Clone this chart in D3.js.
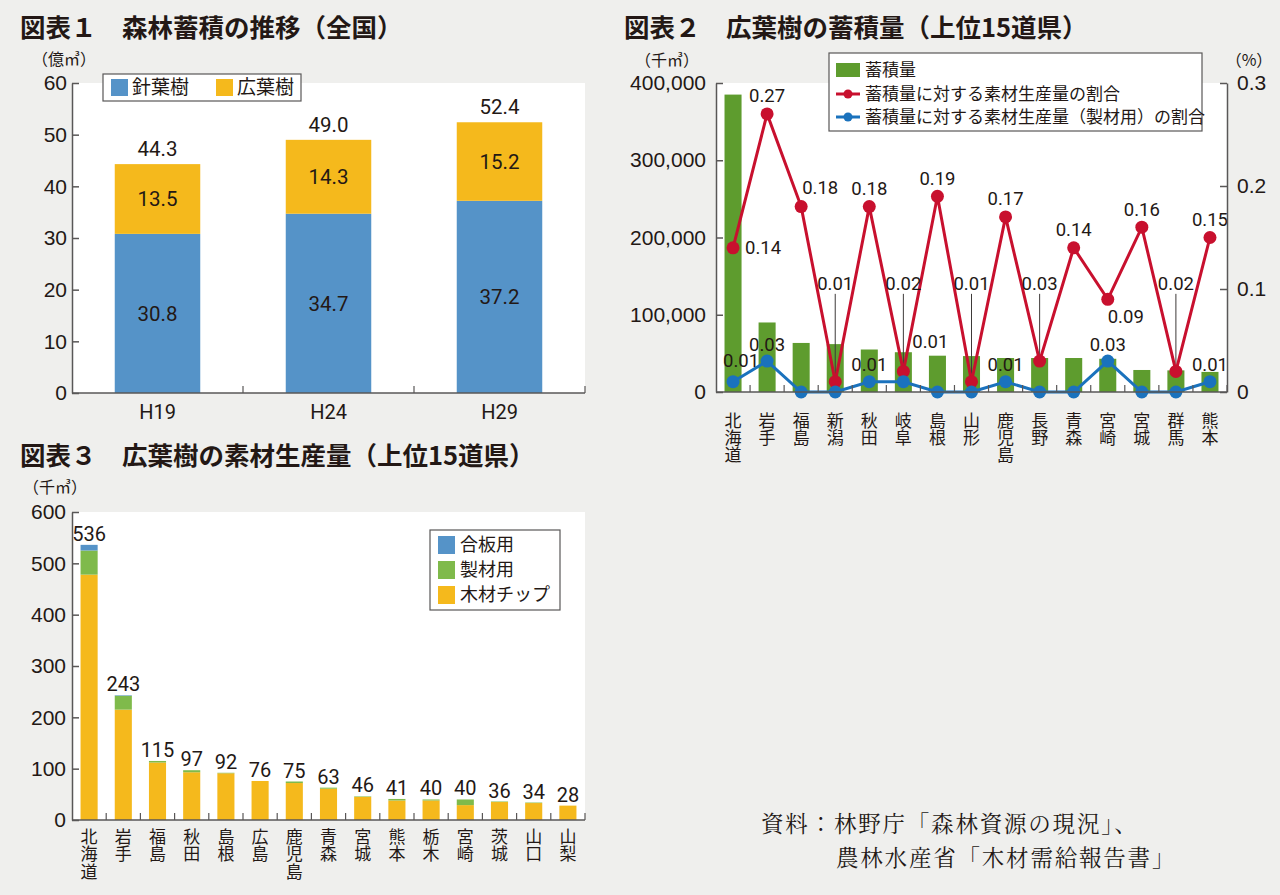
<!DOCTYPE html>
<html><head><meta charset="utf-8">
<script src="https://cdn.jsdelivr.net/npm/d3@7/dist/d3.min.js"></script>
<style>
body{margin:0;background:#efefed;}
svg{display:block;font-family:Roboto,"Noto Sans CJK JP",sans-serif;}
.vt{writing-mode:vertical-rl;text-orientation:upright;}
</style></head><body>
<svg id="c" width="1280" height="895"></svg>
<script>
// ---------- Chart 1 data ----------
const years = ["H19", "H24", "H29"];
const conifer = [30.8, 34.7, 37.2];
const broadleaf = [13.5, 14.3, 15.2];
const totals1 = [44.3, 49.0, 52.4];
const ticks1 = [0, 10, 20, 30, 40, 50, 60];

// ---------- Chart 2 data ----------
const prefs2 = ["北海道","岩手","福島","新潟","秋田","岐阜","島根","山形","鹿児島","長野","青森","宮崎","宮城","群馬","熊本"];
const stock2 = [385000, 90000, 63500, 62000, 55000, 51500, 47000, 46500, 44000, 44000, 44000, 43000, 28500, 28000, 26000];
const ratioAll = [0.14, 0.27, 0.18, 0.01, 0.18, 0.02, 0.19, 0.01, 0.17, 0.03, 0.14, 0.09, 0.16, 0.02, 0.15];
const ratioSawn = [0.01, 0.03, 0, 0, 0.01, 0.01, 0, 0, 0.01, 0, 0, 0.03, 0, 0, 0.01];
const ticks2L = [0, 100000, 200000, 300000, 400000];
const ticks2R = [0, 0.1, 0.2, 0.3];
// label placement (annotation style, not data)
const redPlace = ["right","above","aboveRight","leader","above","leader","above","leader","above","leader","above","belowRight","above","leader","above"];
const bluePlace = ["aboveRight","above",null,null,"above","farRight",null,null,"above",null,null,"above",null,null,"above"];

// ---------- Chart 3 data ----------
const prefs3 = ["北海道","岩手","福島","秋田","島根","広島","鹿児島","青森","宮城","熊本","栃木","宮崎","茨城","山口","山梨"];
const plywood = [11, 1, 0, 0, 0, 0, 0, 0, 0, 0, 0, 0, 0, 0, 0];
const sawn = [47, 27, 3, 4, 1, 0, 3, 2, 1, 3, 2, 11, 1, 1, 0];
const chip = [478, 215, 112, 93, 91, 76, 72, 61, 45, 38, 38, 29, 35, 33, 28];
const totals3 = [536, 243, 115, 97, 92, 76, 75, 63, 46, 41, 40, 40, 36, 34, 28];
const ticks3 = [0, 100, 200, 300, 400, 500, 600];

// ---------- styles ----------
const TXT = "#231815", AX = "#595757";
const BLUE = "#5593c8", YEL = "#f5b91c", GRN2 = "#5e9c2e", GRN3 = "#7fba4b";
const RED = "#c8102e", LBLUE = "#1a72bd";
const JP = '"Noto Sans CJK JP",sans-serif';

const svg = d3.select("#c");

function title(x, y, t){
  svg.append("text").attr("x", x).attr("y", y).attr("dy","0.35em")
    .attr("font-size", 25.5).attr("font-weight", 700).attr("fill", TXT)
    .attr("font-family", JP).text(t);
}
function unit(x, y, t, anchor){
  svg.append("text").attr("x", x).attr("y", y).attr("dy","0.35em")
    .attr("font-size", 16).attr("fill", TXT).attr("text-anchor", anchor || "start")
    .attr("font-family", JP).text(t);
}
function styleAxis(g, fs){
  g.selectAll("path,line").attr("stroke", AX).attr("stroke-width", 1.5);
  g.selectAll("text").attr("fill", TXT).attr("font-size", fs || 21);
}
function xBaseline(g, x, y0){
  const [a, b] = x.range();
  g.append("line").attr("x1", a).attr("x2", b).attr("y1", y0).attr("y2", y0)
    .attr("stroke", AX).attr("stroke-width", 1.5);
  g.selectAll(".bt").data(x.domain()).join("line")
    .attr("x1", d => x(d) + x.bandwidth()/2 + x.step()/2)
    .attr("x2", d => x(d) + x.bandwidth()/2 + x.step()/2)
    .attr("y1", y0).attr("y2", y0 - 7).attr("stroke", AX).attr("stroke-width", 1.2);
}
function vertLabels(g, x, cats, y0, top, spacing){
  cats.forEach(c => {
    g.append("text").attr("class","vt")
      .attr("x", x(c) + x.bandwidth()/2).attr("y", y0 + top)
      .attr("font-size", 17).attr("letter-spacing", spacing).attr("fill", TXT)
      .attr("font-family", JP).text(c);
  });
}

// =============== Chart 1 ===============
title(20, 28, "図表１　森林蓄積の推移（全国）");
unit(32, 59, "（億㎥）");
{
  const L = 72, R = 585, T = 83, B = 393;
  const x = d3.scaleBand().domain(years).range([L, R]).paddingInner(0.5).paddingOuter(0.25);
  const y = d3.scaleLinear().domain([0, 60]).range([B, T]);
  const g = svg.append("g");
  g.append("rect").attr("x", L).attr("y", T).attr("width", R-L).attr("height", B-T).attr("fill", "#fff");
  g.selectAll(".c1").data(years).join("rect")
    .attr("x", d => x(d)).attr("width", x.bandwidth())
    .attr("y", (d,i) => y(conifer[i])).attr("height", (d,i) => y(0) - y(conifer[i])).attr("fill", BLUE);
  g.selectAll(".b1").data(years).join("rect")
    .attr("x", d => x(d)).attr("width", x.bandwidth())
    .attr("y", (d,i) => y(conifer[i] + broadleaf[i])).attr("height", (d,i) => y(conifer[i]) - y(conifer[i]+broadleaf[i])).attr("fill", YEL);
  const lab = (xx, yy, t) => g.append("text").attr("x", xx).attr("y", yy).attr("dy","0.35em")
      .attr("text-anchor","middle").attr("font-size", 20.5).attr("fill", TXT).text(t);
  years.forEach((d,i) => {
    const cx = x(d) + x.bandwidth()/2;
    lab(cx, (y(0) + y(conifer[i]))/2, conifer[i].toFixed(1));
    lab(cx, (y(conifer[i]) + y(conifer[i]+broadleaf[i]))/2, broadleaf[i].toFixed(1));
    lab(cx, y(totals1[i]) - 15, totals1[i].toFixed(1));
  });
  const ya = g.append("g").attr("transform", `translate(${L},0)`)
    .call(d3.axisLeft(y).tickValues(ticks1).tickSize(-7).tickSizeOuter(0).tickPadding(5));
  styleAxis(ya);
  xBaseline(g, x, B);
  years.forEach(d => {
    g.append("text").attr("x", x(d)+x.bandwidth()/2).attr("y", B + 19).attr("dy","0.35em")
      .attr("text-anchor","middle").attr("font-size", 20).attr("fill", TXT).text(d);
  });
  const lg = g.append("g");
  lg.append("rect").attr("x", 103).attr("y", 74).attr("width", 198).attr("height", 27)
    .attr("fill","#fff").attr("stroke", AX).attr("stroke-width", 1.2);
  [["針葉樹", BLUE, 111], ["広葉樹", YEL, 216]].forEach(([t, c, lx]) => {
    lg.append("rect").attr("x", lx).attr("y", 79).attr("width", 17).attr("height", 17).attr("fill", c);
    lg.append("text").attr("x", lx + 21).attr("y", 87.5).attr("dy","0.35em").attr("font-size", 19)
      .attr("fill", TXT).attr("font-family", JP).text(t);
  });
}

// =============== Chart 2 ===============
title(624, 28, "図表２　広葉樹の蓄積量（上位15道県）");
unit(667, 60, "（千㎥）", "middle");
unit(1249, 60, "（%）", "middle");
{
  const L = 716, R = 1227, T = 83, B = 392;
  const x = d3.scaleBand().domain(prefs2).range([L, R]).paddingInner(0.5).paddingOuter(0.25);
  const yL = d3.scaleLinear().domain([0, 400000]).range([B, T]);
  const yR = d3.scaleLinear().domain([0, 0.3]).range([B, T]);
  const cx = d => x(d) + x.bandwidth()/2;
  const g = svg.append("g");
  g.append("rect").attr("x", L).attr("y", T).attr("width", R-L).attr("height", B-T).attr("fill", "#fff");
  g.selectAll(".s2").data(prefs2).join("rect")
    .attr("x", d => x(d)).attr("width", x.bandwidth())
    .attr("y", (d,i) => yL(stock2[i])).attr("height", (d,i) => yL(0) - yL(stock2[i])).attr("fill", GRN2);
  const leaderY = yR(0.105);
  prefs2.forEach((d,i) => {
    if (redPlace[i] === "leader") {
      g.append("line").attr("x1", cx(d)).attr("x2", cx(d)).attr("y1", leaderY + 10).attr("y2", yR(ratioAll[i]))
        .attr("stroke", "#3e3a39").attr("stroke-width", 1);
    }
  });
  const line = arr => d3.line().x((d,i) => cx(prefs2[i])).y(v => yR(v))(arr);
  g.append("path").attr("d", line(ratioAll)).attr("fill","none").attr("stroke", RED).attr("stroke-width", 3);
  g.selectAll(".rd").data(ratioAll).join("circle")
    .attr("cx", (v,i) => cx(prefs2[i])).attr("cy", v => yR(v)).attr("r", 6.5).attr("fill", RED);
  g.append("path").attr("d", line(ratioSawn)).attr("fill","none").attr("stroke", LBLUE).attr("stroke-width", 3);
  g.selectAll(".bd").data(ratioSawn).join("circle")
    .attr("cx", (v,i) => cx(prefs2[i])).attr("cy", v => yR(v)).attr("r", 6.5).attr("fill", LBLUE);
  const lab = (xx, yy, t, anchor) => g.append("text").attr("x", xx).attr("y", yy).attr("dy","0.35em")
      .attr("text-anchor", anchor || "middle").attr("font-size", 18.5).attr("fill", TXT).text(t);
  const f2 = d3.format(".2f");
  prefs2.forEach((d,i) => {
    const px = cx(d), py = yR(ratioAll[i]);
    const t = f2(ratioAll[i]);
    switch (redPlace[i]) {
      case "right": lab(px + 12, py, t, "start"); break;
      case "above": lab(px, py - 18, t); break;
      case "aboveRight": lab(px + 19, py - 19, t); break;
      case "belowRight": lab(px + 18, py + 17, t); break;
      case "leader": lab(px, leaderY, t); break;
    }
    const by = yR(ratioSawn[i]), bt = f2(ratioSawn[i]);
    switch (bluePlace[i]) {
      case "above": lab(px, by - 17, bt); break;
      case "aboveRight": lab(px + 8, by - 21, bt); break;
      case "farRight": lab(px + 27, by - 40, bt); break;
    }
  });
  const ya = g.append("g").attr("transform", `translate(${L},0)`)
    .call(d3.axisLeft(yL).tickValues(ticks2L).tickSize(-7).tickSizeOuter(0).tickPadding(10).tickFormat(d3.format(",")));
  styleAxis(ya);
  const yb = g.append("g").attr("transform", `translate(${R},0)`)
    .call(d3.axisRight(yR).tickValues(ticks2R).tickSize(-7).tickSizeOuter(0).tickPadding(10)
      .tickFormat(d => d === 0 ? "0" : d3.format(".1f")(d)));
  styleAxis(yb);
  xBaseline(g, x, B);
  vertLabels(g, x, prefs2, B, 20, 0);
  const lg = g.append("g");
  lg.append("rect").attr("x", 829).attr("y", 53).attr("width", 373).attr("height", 78)
    .attr("fill","#fff").attr("stroke", AX).attr("stroke-width", 1.2);
  lg.append("rect").attr("x", 836).attr("y", 63).attr("width", 24).attr("height", 14).attr("fill", GRN2);
  [[RED, 94], [LBLUE, 117]].forEach(([c, yy]) => {
    lg.append("line").attr("x1", 836).attr("x2", 860).attr("y1", yy).attr("y2", yy).attr("stroke", c).attr("stroke-width", 3);
    lg.append("circle").attr("cx", 848).attr("cy", yy).attr("r", 4.5).attr("fill", c);
  });
  [["蓄積量", 70], ["蓄積量に対する素材生産量の割合", 94], ["蓄積量に対する素材生産量（製材用）の割合", 117]].forEach(([t, yy]) => {
    lg.append("text").attr("x", 865).attr("y", yy).attr("dy","0.35em").attr("font-size", 17)
      .attr("fill", TXT).attr("font-family", JP).text(t);
  });
}

// =============== Chart 3 ===============
title(20, 456, "図表３　広葉樹の素材生産量（上位15道県）");
unit(55, 487, "（千㎥）", "middle");
{
  const L = 72, R = 585, T = 512, B = 820;
  const x = d3.scaleBand().domain(prefs3).range([L, R]).paddingInner(0.5).paddingOuter(0.25);
  const y = d3.scaleLinear().domain([0, 600]).range([B, T]);
  const g = svg.append("g");
  g.append("rect").attr("x", L).attr("y", T).attr("width", R-L).attr("height", B-T).attr("fill", "#fff");
  const stack = d3.stack().keys(["chip","sawn","plywood"])(prefs3.map((d,i) => ({chip: chip[i], sawn: sawn[i], plywood: plywood[i]})));
  const cols = [YEL, GRN3, BLUE];
  stack.forEach((layer, k) => {
    g.selectAll(".l" + k).data(layer).join("rect")
      .attr("x", (d,i) => x(prefs3[i])).attr("width", x.bandwidth())
      .attr("y", d => y(d[1])).attr("height", d => Math.max(0, y(d[0]) - y(d[1]))).attr("fill", cols[k]);
  });
  prefs3.forEach((d,i) => {
    g.append("text").attr("x", x(d) + x.bandwidth()/2).attr("y", y(totals3[i]) - 4)
      .attr("text-anchor","middle").attr("font-size", 20).attr("fill", TXT).text(totals3[i]);
  });
  const ya = g.append("g").attr("transform", `translate(${L},0)`)
    .call(d3.axisLeft(y).tickValues(ticks3).tickSize(-7).tickSizeOuter(0).tickPadding(6));
  styleAxis(ya);
  xBaseline(g, x, B);
  vertLabels(g, x, prefs3, B, 8, 0.5);
  const lg = g.append("g");
  lg.append("rect").attr("x", 430).attr("y", 530).attr("width", 130).attr("height", 80)
    .attr("fill","#fff").attr("stroke", AX).attr("stroke-width", 1.2);
  [["合板用", BLUE, 545], ["製材用", GRN3, 570], ["木材チップ", YEL, 595]].forEach(([t, c, yy]) => {
    lg.append("rect").attr("x", 438).attr("y", yy - 9).attr("width", 17).attr("height", 18).attr("fill", c);
    lg.append("text").attr("x", 460).attr("y", yy).attr("dy","0.35em").attr("font-size", 18)
      .attr("fill", TXT).attr("font-family", JP).text(t);
  });
}

// =============== Source ===============
const src = svg.append("g").attr("font-family", '"Noto Serif CJK JP","Noto Sans CJK JP",serif')
  .attr("font-size", 22.5).attr("letter-spacing", 1.8).attr("fill", TXT);
src.append("text").attr("x", 761).attr("y", 824).attr("dy","0.35em").text("資料：林野庁「森林資源の現況」、");
src.append("text").attr("x", 836).attr("y", 858).attr("dy","0.35em").text("農林水産省「木材需給報告書」");
</script>
</body></html>
